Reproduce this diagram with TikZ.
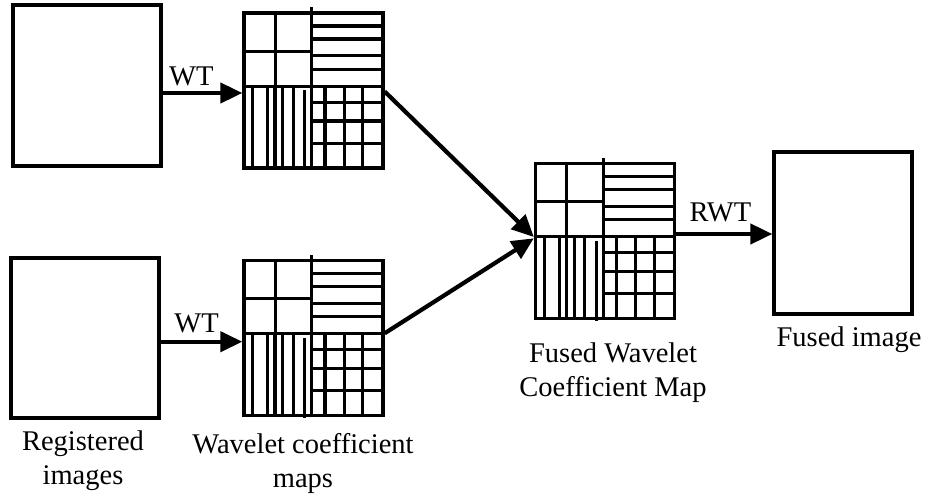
\documentclass[tikz,border=0pt]{standalone}
\usepackage{fontspec}
\setmainfont{Liberation Serif}
\usetikzlibrary{arrows.meta}

% Wavelet coefficient map interior, drawn from the node's north-west corner
% (local units: x to the right, y downwards, map is 139 x 155)
\newcommand{\coeffgrid}[1]{%
  \begin{scope}[shift={(#1.north west)}, gridline]
    % first-level split
    \draw (0,75) -- (139,75);
    \draw (69.5,-4) -- (69.5,155);
    % approximation quadrant
    \draw (33,0) -- (33,75);
    \draw (0,40) -- (69.5,40);
    % horizontal detail
    \foreach \yy in {14.7,27.7,44.3,58}
      \draw (69.5,\yy) -- (139,\yy);
    % vertical detail
    \foreach \xx in {10.3,25.3,32.7,40.3,51}
      \draw (\xx,75) -- (\xx,155);
    \draw (62.3,79) -- (62.3,159);
    % diagonal detail
    \foreach \xx in {82.7,102,120.3}
      \draw (\xx,75) -- (\xx,155);
    \foreach \yy in {91,109.7,132}
      \draw (69.5,\yy) -- (139,\yy);
  \end{scope}}

\begin{document}
\begin{tikzpicture}[x=1pt, y=-1pt,
  font=\fontsize{28.5}{34}\selectfont,
  imgbox/.style={draw, line width=3.3pt, inner sep=0pt},
  mapbox/.style={draw, line width=3.3pt, inner sep=0pt,
                 minimum width=139pt, minimum height=155pt},
  gridline/.style={line width=3.2pt},
  arr/.style={line width=4.2pt, -{Triangle[length=22pt,width=20pt]}},
  lbl/.style={anchor=base, inner sep=0pt},
  caption/.style={align=center, anchor=north, inner sep=0pt}]

\useasboundingbox (0,0) rectangle (927,497);

% registered input images
\node[imgbox, minimum width=148pt, minimum height=161pt] (img1) at (87,85.5) {};
\node[imgbox, minimum width=148pt, minimum height=160pt] (img2) at (85,338) {};

% wavelet coefficient maps
\node[mapbox] (map1) at (313.5,90.5) {};
\node[mapbox] (map2) at (313.5,338) {};
\node[mapbox] (fmap) at (605,241) {};
\coeffgrid{map1}
\coeffgrid{map2}
\coeffgrid{fmap}

% fused output image
\node[imgbox, minimum width=138pt, minimum height=162pt] (fimg) at (843,233) {};

% forward transforms
\draw[arr] ([yshift=-7.5pt]img1.east) -- ([yshift=-7.5pt]img1.east -| map1.west)
  node[lbl, pos=0.36, yshift=7pt] (wt1) {WT};
\draw[arr] ([yshift=-3.7pt]img2.east) -- ([yshift=-3.7pt]img2.east -| map2.west)
  node[lbl, pos=0.44, yshift=9.7pt] (wt2) {WT};

% fusion
\draw[arr] ([yshift=-1pt]map1.east) -- ([yshift=4pt]fmap.west);
\draw[arr] ([yshift=4.7pt]map2.east) -- ([yshift=2.7pt]fmap.west);

% reverse transform
\draw[arr] ([yshift=7pt]fmap.east) -- ([yshift=7pt]fmap.east -| fimg.west)
  node[lbl, pos=0.46, yshift=12.3pt] (rwt) {RWT};

% captions
\node[caption] (cap1) at (83,430.5) {Registered\\images};
\node[caption] (cap2) at (303,433.5) {Wavelet coefficient\\maps};
\node[caption] (cap3) at (613,343) {Fused Wavelet\\Coefficient Map};
\node[caption] (cap4) at (849,327) {Fused image};
\end{tikzpicture}
\end{document}
